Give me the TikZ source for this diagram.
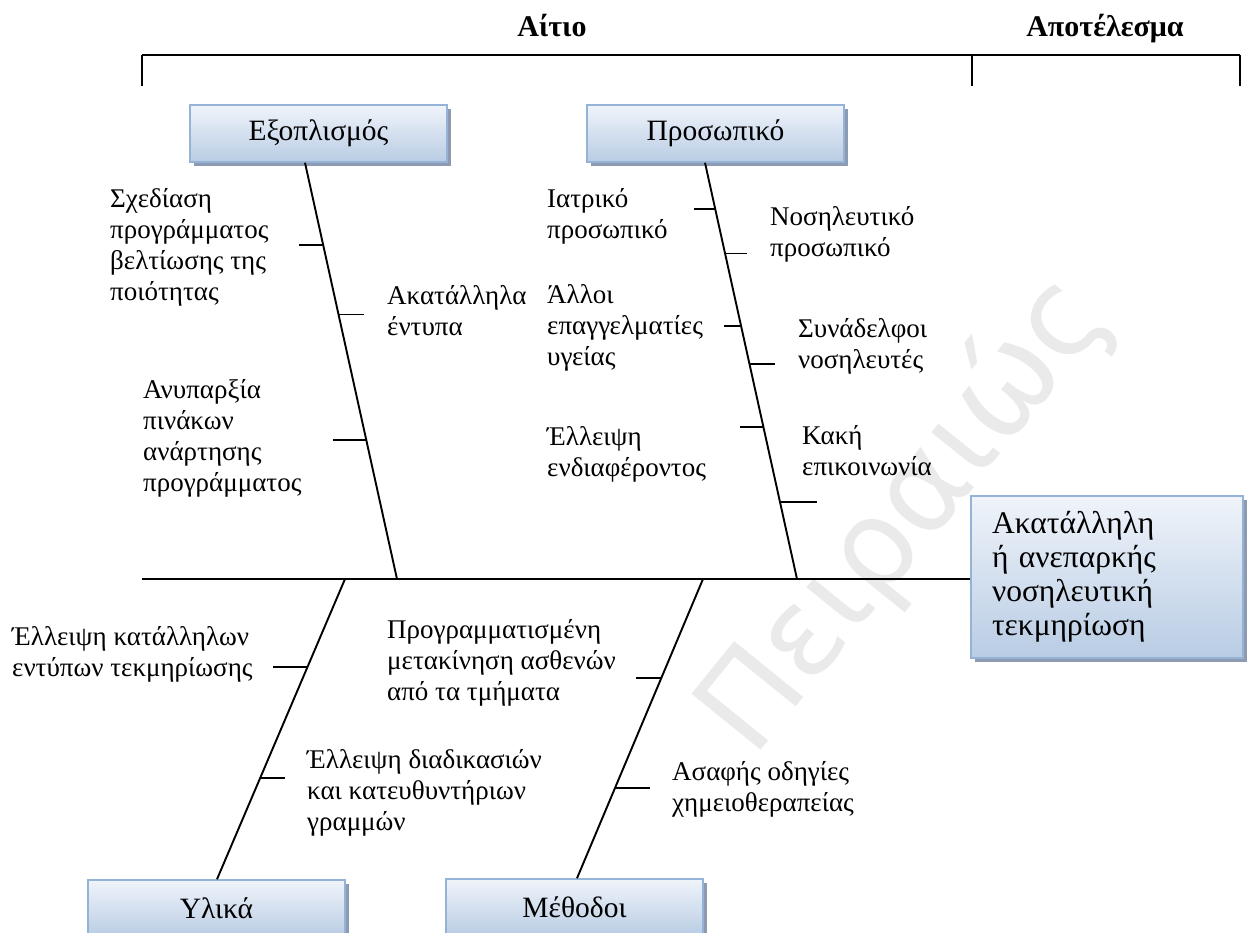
\documentclass[tikz,border=0pt]{standalone}
\usepackage{fontspec}
\setmainfont{Liberation Serif}
\newfontfamily\markfont{DejaVu Sans}
\usetikzlibrary{calc,shadows}

\definecolor{boxtop}{RGB}{240,244,250}
\definecolor{boxbot}{RGB}{184,204,228}
\definecolor{boxedge}{RGB}{149,179,215}
\definecolor{boxshadow}{RGB}{140,155,178}
\definecolor{markgray}{RGB}{234,234,234}

\tikzset{
  catbox/.style={draw=boxedge, line width=1.5pt, top color=boxtop, bottom color=boxbot,
    minimum width=257pt, minimum height=57pt, inner sep=0pt,
    font=\fontsize{29.5}{34}\selectfont,
    drop shadow={shadow xshift=4pt, shadow yshift=-4pt, fill=boxshadow, opacity=1}},
  bone/.style={line width=1.9pt},
  twig/.style={line width=1.9pt},
  % multi-line labels: the base anchor sits on the last line
  lbl/.style={anchor=base west, align=left, inner sep=0pt, font=\fontsize{27}{31}\selectfont},
  heading/.style={anchor=base, inner sep=0pt, font=\bfseries\fontsize{30}{34}\selectfont},
}

\begin{document}
\begin{tikzpicture}[x=1pt, y=-1pt]
  % canvas
  \fill[white] (0,0) rectangle (1250,933);
  \useasboundingbox (0,0) rectangle (1250,933);

  % faint watermark
  \node[rotate=51, text=markgray, font=\markfont\fontsize{122}{122}\selectfont] (wm) at (905,515) {Πειραιώς};

  % headings and bracket
  \node[heading] (cause) at (552,37) {Αίτιο};
  \node[heading] (effect) at (1105,37) {Αποτέλεσμα};
  \coordinate (brL) at (142,55);
  \coordinate (brM) at (972,55);
  \coordinate (brR) at (1240,55);
  \draw[line width=2pt] (brL) -- (brR);
  \draw[line width=1.3pt] (brL) -- ++(0,31);
  \draw[line width=1.3pt] (brM) -- ++(0,31);
  \draw[line width=1.3pt] (brR) -- ++(0,31);

  % category boxes
  \node[catbox] (equip) at (318.5,133.5) {Εξοπλισμός};
  \node[catbox] (staff) at (715.5,133.5) {Προσωπικό};
  \node[catbox] (mater) at (216.5,908.5) {Υλικά};
  \node[catbox] (meth)  at (574.5,907.5) {Μέθοδοι};

  % effect box
  \node[catbox, minimum width=272pt, minimum height=162pt, text width=230pt,
        align=left, inner xsep=21pt, font=\fontsize{31.5}{34}\selectfont]
        (res) at (1107,577) {Ακατάλληλη\\ή ανεπαρκής\\νοσηλευτική\\τεκμηρίωση};

  % spine and bones
  \coordinate (tail) at (142,579);
  \coordinate (j1) at (397,579);
  \coordinate (j2) at (797,579);
  \coordinate (j3) at (345,579);
  \coordinate (j4) at (703,579);
  \draw[bone] (tail) -- (tail -| res.west);
  \draw[bone] ([xshift=-13.5pt]equip.south) -- (j1)
    coordinate[pos=0.197] (k11) coordinate[pos=0.3645] (k12) coordinate[pos=0.667] (k13);
  \draw[bone] ([xshift=-10.5pt]staff.south) -- (j2)
    coordinate[pos=0.112] (k21) coordinate[pos=0.218] (k22) coordinate[pos=0.392] (k23)
    coordinate[pos=0.483] (k24) coordinate[pos=0.634] (k25) coordinate[pos=0.816] (k26);
  \draw[bone] (j3) -- ([xshift=0.5pt]mater.north)
    coordinate[pos=0.293] (k31) coordinate[pos=0.663] (k32);
  \draw[bone] (j4) -- ([xshift=2.5pt]meth.north)
    coordinate[pos=0.33] (k41) coordinate[pos=0.697] (k42);

  % small branches
  \draw[twig] (k11) -- ++(-24,0);
  \draw[twig] (k12) -- ++(25,0);
  \draw[twig] (k13) -- ++(-33,0);
  \draw[twig] (k21) -- ++(-21,0);
  \draw[twig] (k22) -- ++(22,0);
  \draw[twig] (k23) -- ++(-17,0);
  \draw[twig] (k24) -- ++(26,0);
  \draw[twig] (k25) -- ++(-23,0);
  \draw[twig] (k26) -- ++(37,0);
  \draw[twig] (k31) -- ++(-34,0);
  \draw[twig] (k32) -- ++(25,0);
  \draw[twig] (k41) -- ++(-25,0);
  \draw[twig] (k42) -- ++(35,0);

  % causes (positions give the baseline of each last line)
  \node[lbl] (l11) at (110,301) {Σχεδίαση\\προγράμματος\\βελτίωσης της\\ποιότητας};
  \node[lbl] (l12) at (387,335) {Ακατάλληλα\\έντυπα};
  \node[lbl] (l13) at (143,491) {Ανυπαρξία\\πινάκων\\ανάρτησης\\προγράμματος};
  \node[lbl] (l21) at (547,239) {Ιατρικό\\προσωπικό};
  \node[lbl] (l22) at (770,257) {Νοσηλευτικό\\προσωπικό};
  \node[lbl] (l23) at (547,365) {Άλλοι\\επαγγελματίες\\υγείας};
  \node[lbl] (l24) at (798,368) {Συνάδελφοι\\νοσηλευτές};
  \node[lbl] (l25) at (547,476) {Έλλειψη\\ενδιαφέροντος};
  \node[lbl] (l26) at (802,475) {Κακή\\επικοινωνία};
  \node[lbl] (l31) at (12,676) {Έλλειψη κατάλληλων\\εντύπων τεκμηρίωσης};
  \node[lbl] (l32) at (307,830) {Έλλειψη διαδικασιών\\και κατευθυντήριων\\γραμμών};
  \node[lbl] (l41) at (387,700) {Προγραμματισμένη\\μετακίνηση ασθενών\\από τα τμήματα};
  \node[lbl] (l42) at (672,811) {Ασαφής οδηγίες\\χημειοθεραπείας};
\end{tikzpicture}
\end{document}
